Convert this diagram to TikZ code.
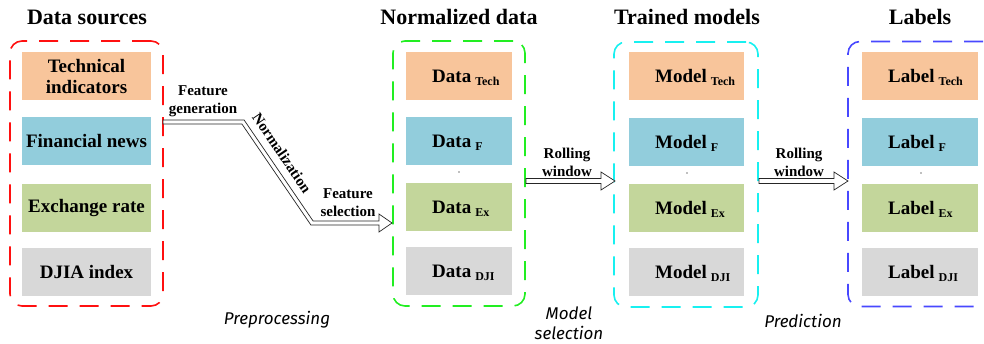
\documentclass[tikz,border=0pt]{standalone}
\usepackage{fontspec}
\setmainfont{Liberation Serif}
\newfontfamily\handfont{Fira Sans}
\usetikzlibrary{calc}
\definecolor{cTech}{HTML}{F8C59B}
\definecolor{cFin}{HTML}{92CDDC}
\definecolor{cEx}{HTML}{C3D69B}
\definecolor{cDJI}{HTML}{D8D8D8}
\definecolor{gRed}{HTML}{FF1010}
\definecolor{gGreen}{HTML}{22EE22}
\definecolor{gCyan}{HTML}{18F0F0}
\definecolor{gBlue}{HTML}{4848FF}
\newcommand\harrow[3]{%
  \draw[arrowline] (#1,{#3-2.5}) -- ({#2-14},{#3-2.5}) -- ({#2-14},{#3-9}) -- (#2,#3)
    -- ({#2-14},{#3+9}) -- ({#2-14},{#3+2.5}) -- (#1,{#3+2.5}) -- cycle;}
\newcommand\sub[1]{\hspace{4pt}\raisebox{-3pt}{\fontsize{12}{12}\selectfont #1}}
\begin{document}
\begin{tikzpicture}[x=1pt,y=-1pt,
  group/.style={draw, line width=1.6pt, rounded corners=12pt,
    dash pattern=on 19pt off 12pt, minimum height=265pt, inner sep=0pt},
  item/.style={inner sep=0pt, minimum height=48pt},
  title/.style={font=\bfseries\fontsize{22}{24}\selectfont, anchor=base, inner sep=0pt},
  itemtext/.style={font=\bfseries\fontsize{19}{22}\selectfont, inner sep=0pt},
  subtext/.style={font=\bfseries\fontsize{19}{22}\selectfont, inner sep=0pt, anchor=base west},
  small/.style={font=\bfseries\fontsize{15}{18}\selectfont, align=center, inner sep=0pt},
  hand/.style={font=\handfont\itshape\fontsize{17}{20}\selectfont, align=center, inner sep=0pt},
  arrowline/.style={draw=black!85, line width=0.7pt, fill=white, line join=miter},
  dot/.style={circle, fill=black!50, inner sep=0pt, minimum size=1.6pt}
]
\useasboundingbox (0,0) rectangle (984,343);
\clip (0,0) rectangle (984,343);

% titles
\node[title] (t1) at (87,24) {Data sources};
\node[title] (t2) at (459,24) {Normalized data};
\node[title] (t3) at (687,24) {Trained models};
\node[title] (t4) at (920,24) {Labels};

% groups
\node[group, draw=gRed, minimum width=153pt] (g1) at (86.5,173.5) {};
\node[group, draw=gGreen, minimum width=132pt] (g2) at (459,173.5) {};
\node[group, draw=gCyan, minimum width=144pt] (g3) at (686,174.5) {};
\node[group, draw=gBlue, minimum width=147pt] (g4) at (921.5,174) {};

% group 1 items
\node[item, fill=cTech, minimum width=129pt] (a1) at (86.5,76) {};
\node[item, fill=cFin, minimum width=129pt] (a2) at (86.5,141) {};
\node[item, fill=cEx, minimum width=129pt] (a3) at (86.5,208) {};
\node[item, fill=cDJI, minimum width=129pt] (a4) at (86.5,272) {};
\node[itemtext, align=center] at (a1) {Technical\\[-1pt]indicators};
\node[itemtext] at (a2) {Financial news};
\node[itemtext] at (a3) {Exchange rate};
\node[itemtext] at (a4) {DJIA index};

% group 2 items
\node[item, fill=cTech, minimum width=106pt] (b1) at (459,75.5) {};
\node[item, fill=cFin, minimum width=106pt] (b2) at (459,140.5) {};
\node[item, fill=cEx, minimum width=106pt] (b3) at (459,206.5) {};
\node[item, fill=cDJI, minimum width=106pt] (b4) at (459,271) {};
\node[subtext] at (432,82) {Data\sub{Tech}};
\node[subtext] at (432,147) {Data\sub{F}};
\node[subtext] at (432,213) {Data\sub{Ex}};
\node[subtext] at (432,277.5) {Data\sub{DJI}};
\node[dot] (d2) at (459,172) {};

% group 3 items
\node[item, fill=cTech, minimum width=115pt] (c1) at (686.5,76) {};
\node[item, fill=cFin, minimum width=115pt] (c2) at (686.5,141.5) {};
\node[item, fill=cEx, minimum width=115pt] (c3) at (686.5,208) {};
\node[item, fill=cDJI, minimum width=115pt] (c4) at (686.5,272) {};
\node[subtext] at (655,82.5) {Model\sub{Tech}};
\node[subtext] at (655,148) {Model\sub{F}};
\node[subtext] at (655,214.5) {Model\sub{Ex}};
\node[subtext] at (655,278.5) {Model\sub{DJI}};
\node[dot] (d3) at (687,173) {};

% group 4 items
\node[item, fill=cTech, minimum width=116pt] (e1) at (920,76) {};
\node[item, fill=cFin, minimum width=116pt] (e2) at (920,141.5) {};
\node[item, fill=cEx, minimum width=116pt] (e3) at (920,208) {};
\node[item, fill=cDJI, minimum width=116pt] (e4) at (920,272) {};
\node[subtext] at (888,82.5) {Label\sub{Tech}};
\node[subtext] at (888,148) {Label\sub{F}};
\node[subtext] at (888,214.5) {Label\sub{Ex}};
\node[subtext] at (888,278.5) {Label\sub{DJI}};
\node[dot] (d4) at (921,173) {};

% bent arrow (preprocessing)
\draw[arrowline] (163,120) -- (244.1,120) -- (313.1,221) -- (379,221) -- (379,214)
  -- (392,223) -- (379,232) -- (379,225) -- (310.9,225) -- (241.9,124) -- (163,124) -- cycle;
\node[small] (l1) at (203,101) {Feature\\generation};
\node[small, rotate=-55.7] (l2) at (282,153) {Normalization};
\node[small] (l3) at (348,203) {Feature\\selection};

% straight arrows
\harrow{526}{615}{181}
\node[small] (l4) at (567,162) {Rolling\\window};
\harrow{759}{848}{181}
\node[small] (l5) at (799,162) {Rolling\\window};

% stage labels
\node[hand] (s1) at (277,320) {Preprocessing};
\node[hand] (s2) at (569,323) {Model\\selection};
\node[hand] (s3) at (803,321) {Prediction};
\end{tikzpicture}
\end{document}
